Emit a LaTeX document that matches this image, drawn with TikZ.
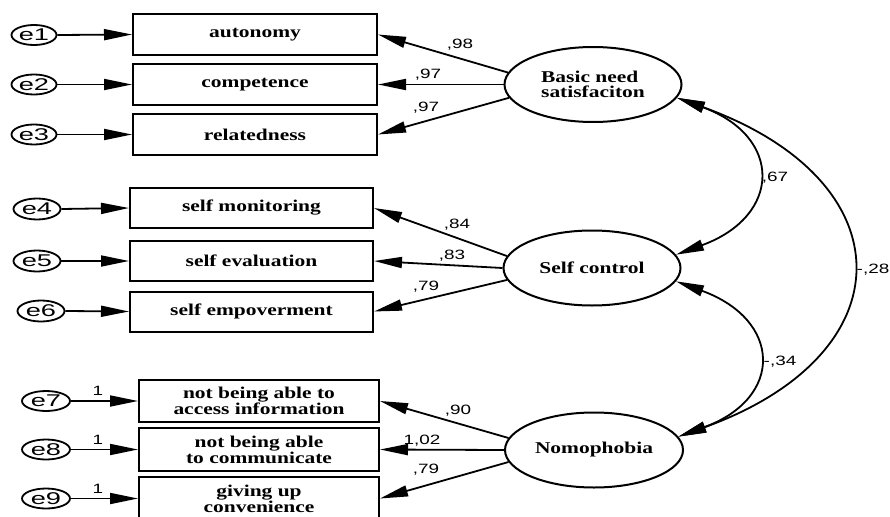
\documentclass[tikz,border=0pt]{standalone}
\usepackage{fontspec}
\setmainfont{Liberation Serif}
\newfontfamily\boxfont[FakeStretch=1.3]{Liberation Serif}
\newfontfamily\efont[FakeStretch=1.6]{Liberation Sans}
\newfontfamily\numfont[FakeStretch=1.4]{Liberation Sans}
\usetikzlibrary{arrows.meta,shapes.geometric}
\begin{document}
\begin{tikzpicture}[x=1pt,y=-1pt,
  ind/.style={draw, line width=2pt, rectangle, minimum width=244pt, minimum height=41pt,
    inner sep=0pt, align=center, font=\boxfont\bfseries\fontsize{16.5}{16}\selectfont},
  lat/.style={draw, ellipse, line width=2pt, minimum width=177pt, minimum height=75pt,
    inner sep=0pt, align=left, font=\boxfont\bfseries\fontsize{16.5}{15}\selectfont},
  err/.style={draw, ellipse, line width=1.8pt, minimum width=45pt, minimum height=20pt,
    inner sep=0pt, font=\efont\fontsize{17}{17}\selectfont},
  coef/.style={font=\numfont\fontsize{13.5}{14}\selectfont, inner sep=0pt, anchor=base},
  arr/.style={line width=1.8pt, -{Triangle[length=28pt,width=11pt]}},
  cov/.style={line width=1.8pt, {Triangle[length=28pt,width=11pt]}-{Triangle[length=28pt,width=11pt]}},
]
\clip (0,0) rectangle (890,516);
\fill[white] (0,0) rectangle (890,516);

% error terms
\node[err] (e1) at (34,35) {e1};
\node[err] (e2) at (34,84.5) {e2};
\node[err] (e3) at (34,134.5) {e3};
\node[err, minimum width=47pt, minimum height=21pt] (e4) at (37,209) {e4};
\node[err, minimum width=47pt, minimum height=21pt] (e5) at (37,261) {e5};
\node[err, minimum width=47pt, minimum height=21pt] (e6) at (41,311) {e6};
\node[err, minimum width=48pt] (e7) at (46,401) {e7};
\node[err, minimum width=48pt] (e8) at (46,449.5) {e8};
\node[err, minimum width=48pt] (e9) at (46,498.5) {e9};

% indicators
\node[ind] (aut) at (255,34.5) {autonomy};
\node[ind] (com) at (255,84.5) {competence};
\node[ind] (rel) at (255,134.5) {relatedness};
\node[ind, minimum width=243pt, minimum height=40pt] (smo) at (251.5,208) {self monitoring};
\node[ind, minimum width=243pt, minimum height=40pt] (sev) at (251.5,261) {self evaluation};
\node[ind, minimum width=243pt, minimum height=40pt] (sem) at (251.5,311.5) {self empoverment};
\node[ind, minimum width=240pt, minimum height=42pt] (nb1) at (259,401) {not being able to\\access information};
\node[ind, minimum width=240pt, minimum height=43pt] (nb2) at (259,449.5) {not being able\\to communicate};
\node[ind, minimum width=240pt, minimum height=43pt] (nb3) at (259,498.5) {giving up\\convenience};

% latent variables
\node[lat] (bn) at (593,84.5) {Basic need\\satisfaciton};
\node[lat] (sc) at (592,268) {Self control};
\node[lat, minimum width=178pt] (nm) at (594,450) {Nomophobia};

% error arrows
\draw[arr] (e1.east) -- (aut.west);
\draw[arr] (e2.east) -- (com.west);
\draw[arr] (e3.east) -- (rel.west);
\draw[arr] (e4.east) -- (smo.west);
\draw[arr] (e5.east) -- (sev.west);
\draw[arr] (e6.east) -- (sem.west);
\draw[arr] (e7.east) -- (nb1.west);
\draw[arr] (e8.east) -- (nb2.west);
\draw[arr] (e9.east) -- (nb3.west);

% loadings
\draw[arr] (bn.172) -- (aut.east);
\draw[arr] (bn.180) -- (com.east);
\draw[arr] (bn.189) -- (rel.east);
\draw[arr] (sc.172) -- (smo.east);
\draw[arr] (sc.180) -- (sev.east);
\draw[arr] (sc.188) -- (sem.east);
\draw[arr] (nm.172) -- (nb1.east);
\draw[arr] (nm.180) -- (nb2.east);
\draw[arr] (nm.188) -- (nb3.east);

% covariances
\draw[cov] (bn.-9) .. controls (783,136.6) and (782,216) .. (sc.9);
\draw[cov] (sc.-9) .. controls (782,320) and (784,398) .. (nm.9);
\draw[cov] (bn.-9) .. controls (907,180.6) and (908,354) .. (nm.9);

% coefficient labels
\node[coef] (l1) at (460,48.5) {,98};
\node[coef] (l2) at (428,79) {,97};
\node[coef] (l3) at (426,111) {,97};
\node[coef] (l4) at (457,228) {,84};
\node[coef] (l5) at (452,259) {,83};
\node[coef] (l6) at (426,290) {,79};
\node[coef] (l7) at (458,414) {,90};
\node[coef] (l8) at (422,444) {1,02};
\node[coef] (l9) at (426,473) {,79};
\node[coef] (l10) at (775,181) {,67};
\node[coef] (l11) at (873,273) {-,28};
\node[coef] (l12) at (780,365) {-,34};
\node[coef] (o7) at (98,395) {1};
\node[coef] (o8) at (98,444) {1};
\node[coef] (o9) at (98,493) {1};
\end{tikzpicture}
\end{document}
